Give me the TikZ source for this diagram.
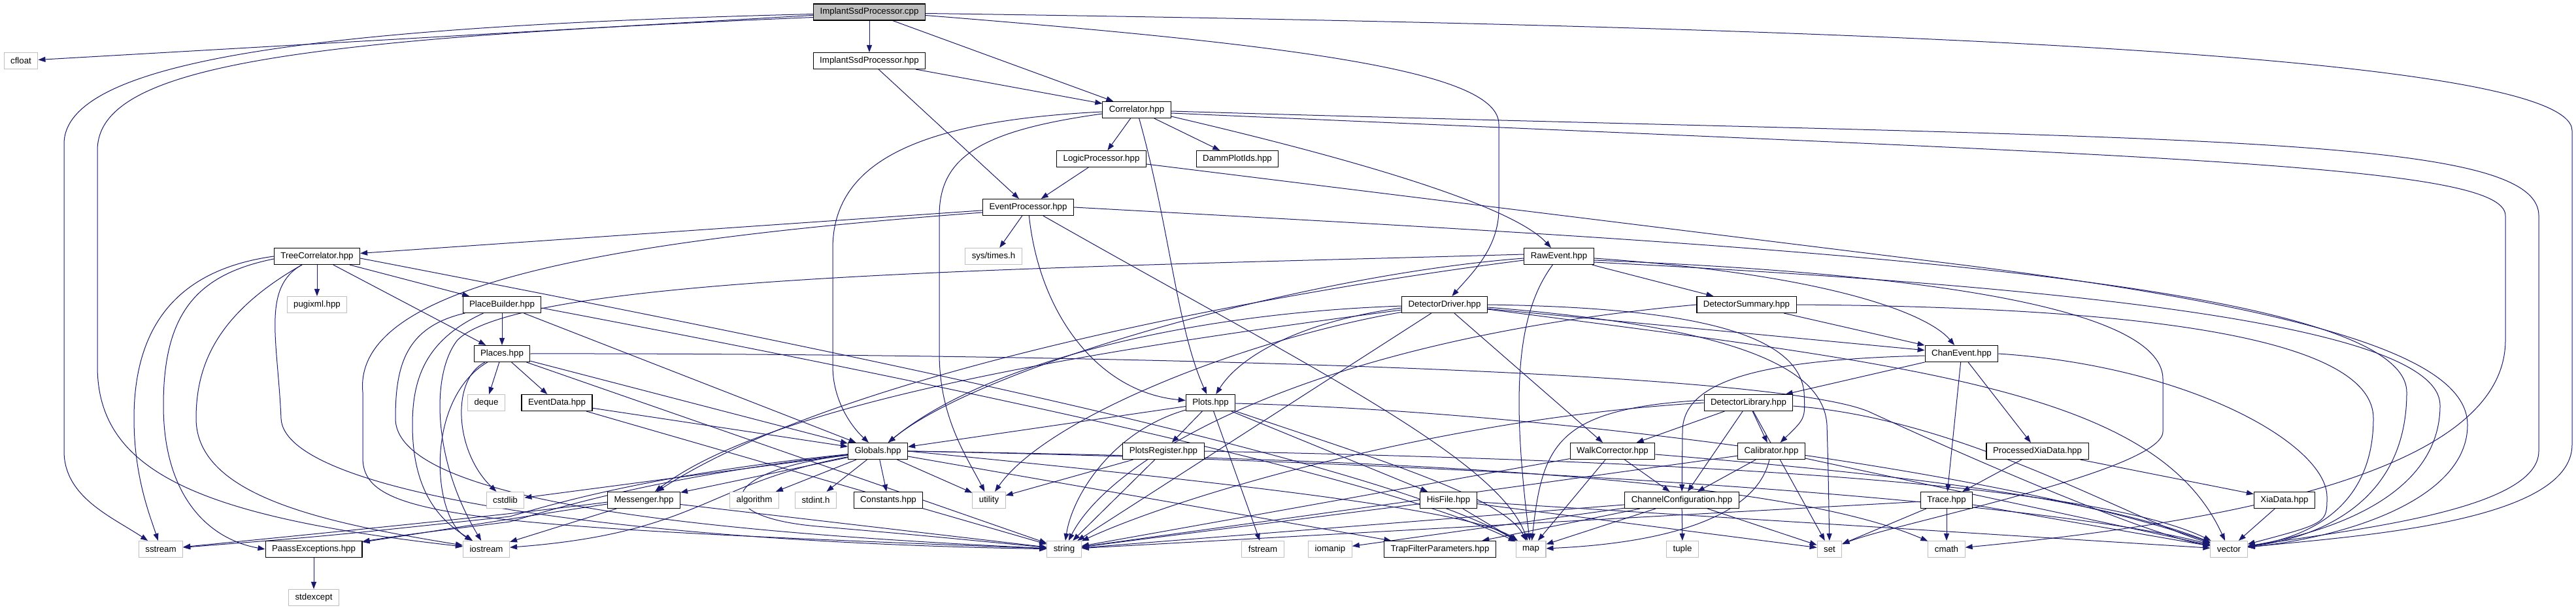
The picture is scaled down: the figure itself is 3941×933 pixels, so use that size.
\documentclass[tikz,border=0pt]{standalone}
\usepackage{fontspec}
\setmainfont{Liberation Sans}
\usepackage{xcolor}
\usetikzlibrary{arrows.meta,backgrounds}
\definecolor{edgeblue}{HTML}{191970}
\definecolor{grey75}{HTML}{BFBFBF}
\begin{document}
\begin{tikzpicture}[x=1pt,y=-1pt,
    hdrbox/.style={rectangle,draw=black,line width=1.1pt,fill=white,minimum height=25pt,inner xsep=10pt,inner ysep=0pt,font=\fontsize{13.3}{15}\selectfont},
    sysbox/.style={hdrbox,draw=grey75},
    srcbox/.style={hdrbox,fill=grey75},
    incl/.style={-{Triangle[length=11pt,width=8pt]},edgeblue,line width=1pt}]
    \useasboundingbox(0,0)rectangle(3941,933);
    \node[srcbox] (cpp) at (1330,18.5) {ImplantSsdProcessor.cpp};
    \node[sysbox] (cfloat) at (32,93) {cfloat};
    \node[hdrbox] (isphpp) at (1330,93) {ImplantSsdProcessor.hpp};
    \node[hdrbox] (correlator) at (1739,168) {Correlator.hpp};
    \node[hdrbox] (logicproc) at (1685,243) {LogicProcessor.hpp};
    \node[hdrbox] (dammplotids) at (1893,243) {DammPlotIds.hpp};
    \node[hdrbox] (eventproc) at (1573,317) {EventProcessor.hpp};
    \node[hdrbox] (treecorr) at (485,392) {TreeCorrelator.hpp};
    \node[sysbox] (systimes) at (1520,392) {sys/times.h};
    \node[hdrbox] (rawevent) at (2385,392) {RawEvent.hpp};
    \node[sysbox] (pugixml) at (485,466) {pugixml.hpp};
    \node[hdrbox] (placebuilder) at (768,466) {PlaceBuilder.hpp};
    \node[hdrbox] (detdriver) at (2210,466) {DetectorDriver.hpp};
    \node[hdrbox] (detsummary) at (2672,466) {DetectorSummary.hpp};
    \node[hdrbox] (places) at (768,541) {Places.hpp};
    \node[hdrbox] (chanevent) at (3001,541) {ChanEvent.hpp};
    \node[sysbox] (deque) at (744,616) {deque};
    \node[hdrbox] (eventdata) at (852,616) {EventData.hpp};
    \node[hdrbox] (plots) at (1852,616) {Plots.hpp};
    \node[hdrbox] (detlibrary) at (2675,616) {DetectorLibrary.hpp};
    \node[hdrbox] (globals) at (1343,690) {Globals.hpp};
    \node[hdrbox] (plotsregister) at (1780,690) {PlotsRegister.hpp};
    \node[hdrbox] (walkcorrector) at (2467,690) {WalkCorrector.hpp};
    \node[hdrbox] (calibrator) at (2710,690) {Calibrator.hpp};
    \node[hdrbox] (procxia) at (3117,690) {ProcessedXiaData.hpp};
    \node[sysbox] (cstdlib) at (773,765) {cstdlib};
    \node[hdrbox] (messenger) at (985,765) {Messenger.hpp};
    \node[sysbox] (algorithm) at (1154,765) {algorithm};
    \node[sysbox] (stdint) at (1248,765) {stdint.h};
    \node[hdrbox] (constants) at (1359,765) {Constants.hpp};
    \node[sysbox] (utility) at (1513,765) {utility};
    \node[hdrbox] (hisfile) at (2216,765) {HisFile.hpp};
    \node[hdrbox] (chanconfig) at (2573,765) {ChannelConfiguration.hpp};
    \node[hdrbox] (trace) at (2978,765) {Trace.hpp};
    \node[hdrbox] (xiadata) at (3495,765) {XiaData.hpp};
    \node[sysbox] (sstream) at (246,840) {sstream};
    \node[hdrbox] (paass) at (480,840) {PaassExceptions.hpp};
    \node[sysbox] (iostream) at (744,840) {iostream};
    \node[sysbox] (string) at (1628,840) {string};
    \node[sysbox] (fstream) at (1932,840) {fstream};
    \node[sysbox] (iomanip) at (2035,840) {iomanip};
    \node[hdrbox] (trapfilter) at (2203,840) {TrapFilterParameters.hpp};
    \node[sysbox] (map) at (2342,840) {map};
    \node[sysbox] (tuple) at (2574,840) {tuple};
    \node[sysbox] (set) at (2799,840) {set};
    \node[sysbox] (cmath) at (2978,840) {cmath};
    \node[sysbox] (vector) at (3410,840) {vector};
    \node[sysbox] (stdexcept) at (480,914) {stdexcept};
    \begin{scope}[on background layer]
    \fill[white](0,0)rectangle(3941,933);
    \draw[incl](cpp)--(cfloat);\draw[incl](cpp)--(isphpp);\draw[incl](cpp)--(correlator);
    \draw[incl]([yshift=-3pt]cpp.west)..controls(500,40)and(98,90)..(98,220)--(98,690)..controls(98,760)and(170,790)..(sstream);
    \draw[incl]([yshift=-8pt]cpp.west)..controls(450,60)and(149,100)..(149,230)--(149,560)..controls(149,720)and(300,790)..(iostream);
    \draw[incl]([yshift=-5pt]cpp.east)..controls(2000,70)and(2293,110)..(2293,190)--(2293,320)..controls(2293,380)and(2250,420)..(detdriver);
    \draw[incl]([yshift=-2pt]cpp.east)..controls(2800,40)and(3935,80)..(3935,200)--(3935,680)..controls(3935,800)and(3600,820)..(vector);
    \draw[incl](isphpp)--(correlator);\draw[incl](isphpp)--(eventproc);
    \draw[incl](correlator)--(logicproc);\draw[incl](correlator)--(dammplotids);
    \draw[incl]([yshift=-10pt]correlator.east)..controls(1950,215)and(2300,300)..(rawevent);
    \draw[incl](correlator)..controls(1790,350)and(1800,500)..(plots);
    \draw[incl]([yshift=-3pt]correlator.west)..controls(1400,185)and(1274,250)..(1274,380)--(1274,560)..controls(1274,610)and(1300,650)..(globals);
    \draw[incl]([yshift=-6pt]correlator.west)..controls(1500,200)and(1437,240)..(1437,330)--(1437,540)..controls(1437,640)and(1480,700)..(utility);
    \draw[incl]([yshift=-2pt]correlator.east)..controls(3300,215)and(3884,200)..(3884,330)--(3884,690)..controls(3884,780)and(3600,810)..(vector);
    \draw[incl]([yshift=-5pt]correlator.east)..controls(3300,240)and(3833,250)..(3833,330)--(3833,520)..controls(3833,700)and(3500,790)..(cmath);
    \draw[incl](logicproc)--(eventproc);
    \draw[incl]([yshift=-8pt]logicproc.east)--(3000,405)..controls(3600,480)and(3775,560)..(3775,650)..controls(3775,760)and(3600,820)..(vector);
    \draw[incl](eventproc)--(treecorr);\draw[incl](eventproc)--(systimes);
    \draw[incl](eventproc)..controls(2000,560)and(2290,700)..(map);
    \draw[incl](eventproc)..controls(1590,480)and(1680,600)..(plots);
    \draw[incl](eventproc.east)..controls(2600,370)and(3682,420)..(3682,600)..controls(3682,760)and(3560,820)..(vector);
    \draw[incl]([yshift=-8pt]eventproc.west)..controls(900,370)and(540,440)..(555,600)--(555,700)..controls(555,790)and(700,805)..(string);
    \draw[incl](treecorr)--(pugixml);\draw[incl](treecorr)--(placebuilder);\draw[incl](treecorr)--(places);
    \draw[incl]([yshift=-3pt]treecorr.east)..controls(1200,520)and(2100,700)..(map);
    \draw[incl](treecorr.west)..controls(290,410)and(205,480)..(205,640)..controls(205,730)and(230,790)..(sstream);
    \draw[incl]([yshift=-4pt]treecorr.west)..controls(300,420)and(250,480)..(250,620)..controls(250,760)and(320,825)..(paass.west);
    \draw[incl](treecorr)..controls(330,480)and(300,560)..(300,640)..controls(300,760)and(500,800)..(iostream);
    \draw[incl](treecorr)..controls(400,440)and(425,520)..(430,640)..controls(435,760)and(1000,830)..(string);
    \draw[incl](placebuilder)--(places);\draw[incl](placebuilder)--(globals);
    \draw[incl](placebuilder)..controls(650,520)and(631,580)..(631,650)..controls(631,760)and(680,800)..(iostream);
    \draw[incl](placebuilder)..controls(620,500)and(605,560)..(605,640)..controls(605,770)and(1100,815)..(string);
    \draw[incl]([yshift=-5pt]placebuilder.east)..controls(1300,560)and(2100,720)..(map);
    \draw[incl](places)--(deque);\draw[incl](places)--(eventdata);\draw[incl](places)--(globals);\draw[incl](places)--(string);
    \draw[incl](places)..controls(690,580)and(695,690)..(cstdlib);
    \draw[incl](places)..controls(650,610)and(660,790)..(iostream);
    \draw[incl](places.east)..controls(1500,540)and(2700,560)..(2860,630)..controls(3100,740)and(3300,820)..(vector);
    \draw[incl](eventdata)--(globals);\draw[incl](eventdata)--(string);
    \draw[incl](plots)--(plotsregister);\draw[incl](plots)--(globals);\draw[incl](plots)--(fstream);\draw[incl](plots)--(hisfile);
    \draw[incl](plots)..controls(2100,700)and(2300,760)..(map);
    \draw[incl](plots)..controls(1700,660)and(1640,760)..(string);
    \draw[incl](plots)..controls(2400,630)and(3100,730)..(vector);
    \draw[incl](plotsregister)--(utility);\draw[incl](plotsregister)--(string);
    \draw[incl](plotsregister.east)..controls(2600,705)and(3200,740)..(vector);
    \draw[incl](globals)--(messenger);\draw[incl](globals)--(algorithm);\draw[incl](globals)--(stdint);\draw[incl](globals)--(constants);\draw[incl](globals)--(utility);
    \draw[incl](globals)--(cstdlib);\draw[incl](globals)--(trapfilter);
    \draw[incl](globals)..controls(1080,740)and(1070,815)..(iostream);
    \draw[incl](globals)..controls(1000,725)and(850,770)..(780,790)..controls(500,820)..(sstream);
    \draw[incl](globals)..controls(1000,730)and(850,778)..(780,798)..controls(620,818)..(paass);
    \draw[incl]([yshift=-6pt]globals.west)..controls(1100,720)and(1080,790)..(1250,805)..controls(1400,818)..(string);
    \draw[incl](globals.east)..controls(1900,740)and(2250,780)..(map);
    \draw[incl](globals.east)..controls(2000,700)and(2700,720)..(cmath);
    \draw[incl](globals.east)..controls(2200,705)and(3100,760)..(vector);
    \draw[incl](messenger)--(iostream);\draw[incl](messenger)--(string);
    \draw[incl]([yshift=-3pt]messenger.west)..controls(800,785)and(500,815)..(sstream);
    \draw[incl]([yshift=-6pt]messenger.west)..controls(800,790)and(650,815)..(paass);
    \draw[incl](rawevent)--(detsummary);
    \draw[incl]([yshift=-3pt]rawevent.east)..controls(2800,420)and(2950,480)..(chanevent);
    \draw[incl](rawevent)..controls(2320,480)and(2312,600)..(map);
    \draw[incl]([yshift=-3pt]rawevent.west)..controls(2000,420)and(1500,560)..(globals);
    \draw[incl]([yshift=-6pt]rawevent.west)..controls(2000,440)and(1300,560)..(messenger);
    \draw[incl]([yshift=3pt]rawevent.west)..controls(1600,410)and(800,420)..(700,520)..controls(660,570)and(660,700)..(iostream);
    \draw[incl]([yshift=-6pt]rawevent.east)..controls(3000,420)and(3309,480)..(3309,580)--(3309,660)..controls(3309,720)and(2900,800)..(set);
    \draw[incl]([yshift=-9pt]rawevent.east)..controls(3200,440)and(3733,500)..(3733,620)..controls(3733,760)and(3560,815)..(vector);
    \draw[incl](detsummary)--(chanevent);
    \draw[incl](detsummary.west)..controls(2000,520)and(1700,700)..(string);
    \draw[incl](detsummary.east)..controls(3300,470)and(3631,520)..(3631,640)..controls(3631,770)and(3540,820)..(vector);
    \draw[incl](detdriver)--(walkcorrector);\draw[incl](detdriver)--(chanevent);\draw[incl](detdriver)--(string);
    \draw[incl](detdriver.east)..controls(2550,470)and(2750,500)..(2760,600)..controls(2762,640)..(calibrator);
    \draw[incl]([yshift=-4pt]detdriver.east)..controls(2650,500)and(2790,560)..(2795,650)..controls(2797,720)..(set);
    \draw[incl]([yshift=-7pt]detdriver.east)..controls(2950,560)and(3300,600)..(vector);
    \draw[incl]([yshift=-2pt]detdriver.west)..controls(1800,480)and(1500,560)..(globals);
    \draw[incl]([yshift=-5pt]detdriver.west)..controls(2000,490)and(1900,540)..(plots);
    \draw[incl]([yshift=-8pt]detdriver.west)..controls(1800,520)and(1200,600)..(messenger);
    \draw[incl](detdriver)..controls(1900,520)and(1600,640)..(utility);
    \draw[incl](chanevent)--(detlibrary);\draw[incl](chanevent)--(procxia);\draw[incl](chanevent)--(trace);
    \draw[incl]([yshift=-3pt]chanevent.west)..controls(2700,550)and(2574,580)..(2574,660)--(chanconfig);
    \draw[incl](chanevent.east)..controls(3350,560)and(3560,680)..(3560,760)..controls(3560,800)..(vector);
    \draw[incl](detlibrary)--(walkcorrector);\draw[incl](detlibrary)--(calibrator);\draw[incl](detlibrary)--(chanconfig);\draw[incl](detlibrary)--(set);
    \draw[incl]([yshift=4pt]detlibrary.west)..controls(2380,625)and(2360,680)..(map);
    \draw[incl](detlibrary.west)..controls(2200,640)and(1800,760)..(string);
    \draw[incl](detlibrary)..controls(3000,640)and(3250,790)..(vector);
    \draw[incl](walkcorrector)--(chanconfig);\draw[incl](walkcorrector)--(map);\draw[incl](walkcorrector)--(string);
    \draw[incl]([yshift=-5pt]walkcorrector.east)..controls(2900,725)and(3200,760)..(vector);
    \draw[incl](calibrator)--(chanconfig);\draw[incl](calibrator)--(string);\draw[incl](calibrator)--(vector);
    \draw[incl](calibrator)..controls(2680,820)and(2450,835)..(map);
    \draw[incl](hisfile)--(string);\draw[incl](hisfile)--(map);\draw[incl](hisfile)--(set);\draw[incl](hisfile)--(vector);
    \draw[incl](chanconfig)--(trapfilter);\draw[incl](chanconfig)--(map);\draw[incl](chanconfig)--(tuple);\draw[incl](chanconfig)--(set);
    \draw[incl](chanconfig)--(iomanip);\draw[incl](chanconfig)--(string);
    \draw[incl](trace)--(cmath);\draw[incl](trace)--(vector);\draw[incl](trace)--(set);\draw[incl](trace)--(string);
    \draw[incl](procxia)--(trace);\draw[incl](procxia)--(xiadata);
    \draw[incl](xiadata)--(vector);
    \draw[incl](paass)--(stdexcept);
    \end{scope}
\end{tikzpicture}
\end{document}
